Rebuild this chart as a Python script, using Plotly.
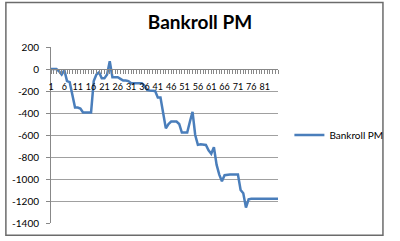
import plotly.graph_objects as go

categories = list(range(1, 87))
bankroll = [
    0, 0, 0, -20, -50, -10, -110, -120, -230, -350,
    -350, -360, -395, -395, -395, -395, -110, -50, -30, -85,
    -85, -50, 70, -75, -75, -75, -90, -105, -105, -110,
    -130, -130, -130, -130, -130, -150, -190, -195, -195, -200,
    -260, -260, -400, -540, -500, -478, -478, -478, -500, -578,
    -578, -578, -480, -390, -600, -690, -685, -685, -690, -740,
    -770, -710, -870, -960, -1020, -965, -960, -960, -960, -960,
    -960, -1100, -1130, -1260, -1185, -1180, -1180, -1180, -1180, -1180,
    -1180, -1180, -1180, -1180, -1180, -1180,
]
x_tick_labels = list(range(1, 82, 5))
y_ticks = list(range(-1400, 201, 200))

W, H = 400, 241
L, R, T, B = 49, 112, 47, 14
pw, ph = W - L - R, H - T - B

fig = go.Figure()
fig.add_trace(go.Scatter(
    x=categories, y=bankroll, mode="lines", name="Bankroll PM",
    line=dict(color="#4A7EBB", width=2.5),
))

font = "Lato, 'Open Sans', sans-serif"
fig.update_layout(
    width=W, height=H,
    margin=dict(l=L, r=R, t=T, b=B),
    paper_bgcolor="white", plot_bgcolor="white",
    title=dict(text="<b>Bankroll PM</b>", x=(200) / W, xanchor="center",
               y=1 - 22 / H, yanchor="middle",
               font=dict(family=font, size=19, color="black")),
    showlegend=True,
    legend=dict(x=(300 - L) / pw, y=0.5, xanchor="left", yanchor="middle",
                font=dict(family=font, size=10, color="black"),
                bgcolor="rgba(0,0,0,0)"),
    font=dict(family=font, size=10, color="black"),
)

zero_pos = (0 - (-1400)) / 1600.0
fig.update_xaxes(
    range=[1, 86], tickvals=x_tick_labels, ticktext=[str(v) for v in x_tick_labels],
    tickangle=0,
    showgrid=False, zeroline=False,
    showline=True, linecolor="#888888", linewidth=1,
    anchor="free", position=zero_pos,
    ticks="outside", ticklen=4, tickcolor="#888888",
    minor=dict(dtick=1, tick0=1, ticks="outside", ticklen=4, tickcolor="#888888", showgrid=False),
    tickfont=dict(family=font, size=9, color="black"),
    ticklabelstandoff=5,
)
fig.update_yaxes(
    range=[-1400, 200], tickvals=y_ticks, ticktext=[str(v) for v in y_ticks],
    showgrid=True, gridcolor="#A0A0A0", gridwidth=1,
    zeroline=False,
    showline=True, linecolor="#888888", linewidth=1,
    ticks="outside", ticklen=4, tickcolor="#888888",
    tickfont=dict(family=font, size=10, color="black"),
    ticklabelstandoff=5,
)

# outer chart border
fig.add_shape(type="rect", xref="paper", yref="paper",
              x0=(1.5 - L) / pw, x1=(W - 1.5 - L) / pw,
              y0=(T + ph - (H - 1.5)) / ph, y1=(T + ph - 1.5) / ph,
              line=dict(color="#6b6b6b", width=1.5), layer="below")

fig.write_html("out.html")
